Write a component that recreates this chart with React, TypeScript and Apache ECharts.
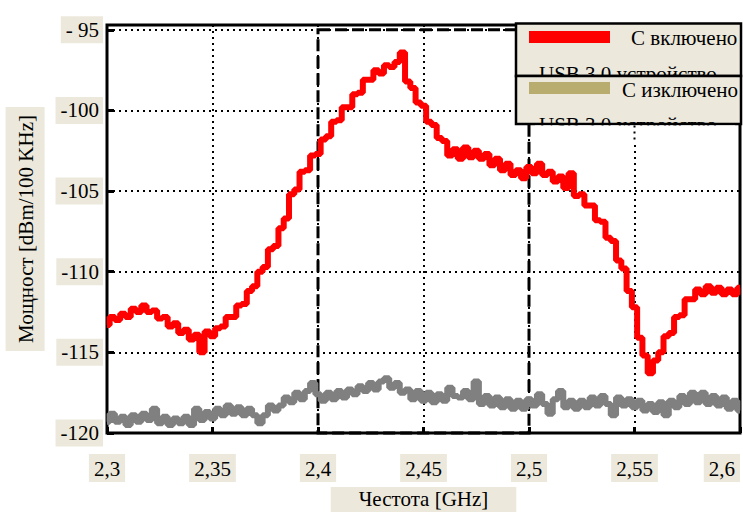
import React, { useEffect, useRef } from "react";
import * as echarts from "echarts";

// Frequency sampling (GHz)
const freqStart = 2.3;
const freqStep = 0.0025;

// Axis tick labels
const xTickLabels = ["2,3", "2,35", "2,4", "2,45", "2,5", "2,55", "2,6"];
const yTickLabels: Record<string, string> = {
  "-120": "-120",
  "-115": "-115",
  "-110": "-110",
  "-105": "-105",
  "-100": "-100",
  "-95": "- 95",
};

// Legend texts
const seriesNames = ["С включено USB 3.0 устройство", "С изключено USB 3.0 устройство"];
const legendLine1 = ["С включено", "С изключено"];
const legendLine2 = ["USB 3.0 устройство", "USB 3.0 устройство"];

// Power with USB 3.0 device ON (dBm/100 kHz)
const powerOn = [
  -113.3, -112.8, -113.0, -112.6, -112.8, -112.3, -112.5, -112.1, -112.5, -112.4,
  -112.9, -112.8, -113.4, -113.2, -113.8, -113.6, -114.2, -113.9, -115.0, -113.7,
  -114.0, -113.5, -113.4, -112.8, -112.8, -112.1, -112.0, -111.2, -110.9, -110.0,
  -109.7, -108.6, -108.4, -107.3, -106.7, -105.2, -104.9, -103.8, -103.7, -102.8,
  -102.7, -101.8, -101.6, -100.7, -100.6, -99.8, -99.8, -99.0, -98.9, -98.1,
  -98.1, -97.5, -97.7, -97.2, -97.3, -97.0, -96.4, -98.2, -98.6, -99.5,
  -99.7, -100.7, -100.9, -101.7, -101.9, -102.8, -102.4, -103.0, -102.3, -102.9,
  -102.5, -103.0, -102.7, -103.4, -103.0, -103.7, -103.3, -104.0, -103.7, -104.2,
  -103.5, -103.9, -103.3, -104.0, -103.8, -104.4, -104.1, -104.8, -103.9, -105.3,
  -105.2, -105.9, -105.9, -106.8, -106.9, -107.9, -108.1, -109.3, -109.8, -111.2,
  -112.2, -114.1, -115.2, -116.3, -115.5, -115.0, -114.0, -113.8, -112.8, -112.7,
  -111.7, -111.7, -111.1, -111.4, -110.9, -111.3, -111.0, -111.4, -111.1, -111.4,
  -111.0,
];

// Power with USB 3.0 device OFF (dBm/100 kHz)
const powerOff = [
  -119.3, -118.8, -119.3, -119.0, -119.5, -118.9, -119.3, -118.8, -119.2, -118.5,
  -119.4, -119.0, -119.5, -119.1, -119.4, -119.0, -119.5, -118.5, -119.2, -118.7,
  -119.1, -118.5, -118.9, -118.3, -118.8, -118.4, -118.9, -118.5, -118.9, -119.4,
  -118.9, -118.3, -118.6, -118.3, -117.8, -118.1, -117.5, -117.9, -117.4, -116.9,
  -117.6, -118.0, -117.5, -117.9, -117.4, -117.8, -117.3, -117.6, -117.1, -117.4,
  -116.9, -117.3, -116.8, -116.6, -117.2, -116.9, -117.5, -117.3, -117.9, -117.4,
  -118.0, -117.5, -118.1, -117.6, -118.0, -117.2, -117.7, -117.8, -117.4, -117.9,
  -116.8, -118.2, -117.7, -118.3, -117.8, -118.4, -117.9, -118.5, -118.0, -118.5,
  -117.9, -118.3, -117.6, -118.2, -118.8, -117.9, -117.4, -118.4, -118.0, -118.5,
  -118.0, -118.4, -117.8, -118.3, -117.7, -118.2, -118.9, -117.8, -118.3, -117.9,
  -118.4, -118.0, -118.6, -118.2, -118.7, -118.1, -118.9, -118.0, -118.4, -117.7,
  -118.2, -117.5, -118.1, -117.5, -118.2, -117.7, -118.3, -117.8, -118.5, -118.0,
  -118.6,
];

// Marked band (GHz)
const bandStart = 2.4;
const bandEnd = 2.5;

const toPairs = (vals: number[]) =>
  vals.map((v, i) => [+(freqStart + i * freqStep).toFixed(4), v]);

const labelBg = "#ece9dc";
const serif = "Liberation Serif, Times New Roman, serif";
const fs = 21;

export default function App() {
  const ref = useRef<HTMLDivElement>(null);

  useEffect(() => {
    if (!ref.current) return;
    const chart = echarts.init(ref.current, undefined, { renderer: "svg" });

    const buildLegend = (dotX: number | null) => {
      const els: any[] = [
        {
          type: "rect",
          z: 100,
          shape: { x: 516, y: 23.5, width: 225, height: 52.5 },
          style: { fill: labelBg, stroke: "#000", lineWidth: 2.5 },
        },
        {
          type: "rect",
          z: 101,
          shape: { x: 529, y: 31, width: 81, height: 12 },
          style: { fill: "#ff0000" },
        },
        {
          type: "text",
          z: 101,
          x: 631,
          y: 38,
          style: { text: legendLine1[0], font: `${fs}px ${serif}`, fill: "#000", verticalAlign: "middle" },
        },
        {
          type: "text",
          z: 101,
          x: 539,
          y: 63,
          style: { text: legendLine2[0], font: `${fs}px ${serif}`, fill: "#000", verticalAlign: "top" },
        },
        {
          type: "rect",
          z: 102,
          shape: { x: 516, y: 76, width: 225, height: 48 },
          style: { fill: labelBg, stroke: "#000", lineWidth: 2.5 },
        },
        {
          type: "rect",
          z: 103,
          shape: { x: 529, y: 82, width: 81, height: 12 },
          style: { fill: "#b8ac6f" },
        },
        {
          type: "text",
          z: 103,
          x: 622,
          y: 90,
          style: { text: legendLine1[1], font: `${fs}px ${serif}`, fill: "#000", verticalAlign: "middle" },
        },
        {
          type: "text",
          z: 103,
          x: 539,
          y: 114,
          style: { text: legendLine2[1], font: `${fs}px ${serif}`, fill: "#000", verticalAlign: "top" },
        },
        {
          type: "rect",
          z: 104,
          shape: { x: 535, y: 125.5, width: 200, height: 16 },
          style: { fill: "#fff" },
        },
      ];
      if (dotX !== null) {
        els.push({
          type: "line",
          z: 105,
          shape: { x1: dotX, y1: 125.5, x2: dotX, y2: 141.5 },
          style: { stroke: "#000", lineWidth: 2, lineDash: [2, 4] },
        });
      }
      return els;
    };

    chart.setOption({
      animation: false,
      backgroundColor: "#fff",
      grid: {
        left: 107,
        right: 3,
        top: 25,
        bottom: 82,
        outerBoundsMode: "none",
        containLabel: false,
        show: true,
        borderColor: "#000",
        borderWidth: 3,
        backgroundColor: "#fff",
      },
      xAxis: {
        type: "value",
        min: 2.3,
        max: 2.6,
        interval: 0.05,
        name: "Честота [GHz]",
        nameLocation: "middle",
        nameGap: 53,
        nameTextStyle: {
          fontFamily: serif,
          fontSize: fs,
          color: "#000",
          backgroundColor: labelBg,
          padding: [2, 28, 2, 28],
        },
        axisLine: { show: false },
        axisTick: { show: true, inside: true, length: 6, lineStyle: { color: "#000", width: 3 } },
        splitLine: { show: true, lineStyle: { color: "#000", width: 2, type: [2, 4] } },
        axisLabel: {
          margin: 21,
          fontFamily: serif,
          fontSize: fs,
          color: "#000",
          backgroundColor: labelBg,
          padding: [4, 5, 3, 5],
          alignMaxLabel: "right",
          formatter: (v: number) => xTickLabels[Math.round((v - 2.3) / 0.05)] ?? "",
        },
      },
      yAxis: {
        type: "value",
        min: -120,
        max: -94.7,
        interval: 5,
        name: "Мощност [dBm/100 KHz]",
        nameLocation: "middle",
        nameGap: 54,
        nameRotate: 90,
        nameTextStyle: {
          fontFamily: serif,
          fontSize: fs,
          color: "#000",
          backgroundColor: labelBg,
          padding: [10, 8, 8, 8],
        },
        axisLine: { show: false },
        axisTick: { show: true, inside: true, length: 7, lineStyle: { color: "#000", width: 3 } },
        splitLine: { show: true, lineStyle: { color: "#000", width: 2, type: [2, 4] } },
        axisLabel: {
          showMaxLabel: false,
          margin: 4,
          fontFamily: serif,
          fontSize: fs,
          color: "#000",
          backgroundColor: labelBg,
          padding: [3, 4, 3, 5],
          formatter: (v: number) => yTickLabels[String(Math.round(v))] ?? "",
        },
      },
      series: [
        {
          name: seriesNames[1],
          type: "line",
          step: "middle",
          showSymbol: false,
          z: 2,
          lineStyle: { color: "#808080", width: 6 },
          data: toPairs(powerOff),
        },
        {
          name: seriesNames[0],
          type: "line",
          step: "middle",
          showSymbol: false,
          z: 3,
          lineStyle: { color: "#ff0000", width: 6 },
          data: toPairs(powerOn),
        },
        {
          type: "line",
          data: [],
          z: 5,
          markArea: {
            silent: true,
            itemStyle: {
              color: "rgba(0,0,0,0)",
              borderColor: "#000",
              borderWidth: 3,
              borderType: [12, 5],
            },
            data: [[{ coord: [bandStart, -95] }, { coord: [bandEnd, -120] }]],
          },
        },
      ],
      graphic: { elements: buildLegend(null) },
    });

    const dotX = chart.convertToPixel({ xAxisIndex: 0 }, 2.55) as number;
    chart.setOption({ graphic: { elements: buildLegend(dotX) } }, { replaceMerge: ["graphic"] });

    return () => chart.dispose();
  }, []);

  return (
    <div
      ref={ref}
      style={{ position: "absolute", left: 0, top: 0, width: 743, height: 515 }}
    />
  );
}
